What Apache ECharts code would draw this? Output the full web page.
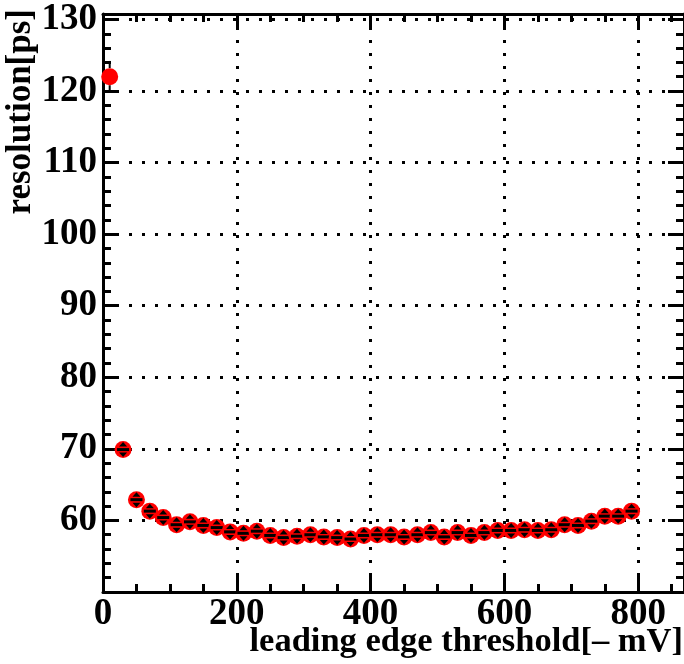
<!DOCTYPE html>
<html>
<head>
<meta charset="utf-8">
<script src="https://cdn.jsdelivr.net/npm/echarts@6/dist/echarts.min.js"></script>
<style>
html,body{margin:0;padding:0;background:#fff;}
#chart{width:684px;height:664px;}
</style>
</head>
<body>
<div id="chart"></div>
<script>
// threshold values [-mV]
var thresholds = [10, 30, 50, 70, 90, 110, 130, 150, 170, 190, 210, 230, 250, 270, 290, 310, 330, 350, 370, 390,
                  410, 430, 450, 470, 490, 510, 530, 550, 570, 590, 610, 630, 650, 670, 690, 710, 730, 750, 770, 790];
// time resolution [ps]
var resolution = [122.0, 69.9, 62.9, 61.3, 60.4, 59.4, 59.8, 59.3, 59.0, 58.4, 58.2, 58.5, 57.9, 57.6, 57.8, 58.0, 57.7, 57.6, 57.4, 57.9,
                  58.0, 58.0, 57.7, 58.0, 58.3, 57.7, 58.3, 57.9, 58.3, 58.6, 58.6, 58.7, 58.6, 58.7, 59.4, 59.3, 59.9, 60.6, 60.6, 61.3];
// resolution errors [ps]
var resolutionErr = [2.2, 0.6, 0.5, 0.5, 0.5, 0.5, 0.5, 0.5, 0.5, 0.5, 0.5, 0.5, 0.5, 0.5, 0.5, 0.5, 0.5, 0.5, 0.5, 0.5,
                     0.5, 0.5, 0.5, 0.5, 0.5, 0.5, 0.5, 0.5, 0.5, 0.5, 0.5, 0.5, 0.5, 0.5, 0.5, 0.5, 0.5, 0.5, 0.5, 0.5];
var xTickValues = [0, 200, 400, 600, 800];
var yTickValues = [60, 70, 80, 90, 100, 110, 120, 130];
var xTitle = 'leading edge threshold[\u2013 mV]';
var yTitle = 'resolution[ps]';

var FONT = 'Liberation Serif';
var data = thresholds.map(function (x, i) { return [x, resolution[i], resolutionErr[i]]; });

function axisCommon(pos, isX, showLabels, showGrid) {
  var o = {
    type: 'value',
    position: pos,
    min: isX ? 0 : 50,
    max: isX ? 868.4 : 130.76,
    interval: isX ? 200 : 10,
    axisLine: { show: true, onZero: false, lineStyle: { color: '#000', width: 3 } },
    axisTick: { show: true, inside: true, length: 16, lineStyle: { color: '#000', width: 3 } },
    minorTick: { show: true, splitNumber: isX ? 4 : 5, length: 8, lineStyle: { color: '#000', width: 3 } },
    splitLine: { show: showGrid, lineStyle: { color: '#000', width: 3, type: [3, 10] } },
    axisLabel: {
      show: showLabels,
      fontFamily: FONT, fontWeight: 'bold', fontSize: 37, color: '#000',
      margin: isX ? 4 : 6,
      showMinLabel: true, showMaxLabel: false,
      formatter: function (v) {
        var list = isX ? xTickValues : yTickValues;
        return list.indexOf(Math.round(v * 1000) / 1000) >= 0 ? String(v) : '';
      }
    }
  };
  return o;
}

var chart = echarts.init(document.getElementById('chart'), null, { renderer: 'canvas' });
chart.setOption({
  animation: false,
  backgroundColor: '#fff',
  grid: { left: 103, top: 14, width: 584, height: 578, containLabel: false },
  xAxis: [axisCommon('bottom', true, true, true), axisCommon('top', true, false, false)],
  yAxis: [axisCommon('left', false, true, true), axisCommon('right', false, false, false)],
  graphic: [
    { type: 'text', right: 1, bottom: 4, z: 10,
      style: { text: xTitle, font: 'bold 34.5px "' + FONT + '"', fill: '#000' } },
    { type: 'text', x: 38, y: 9, rotation: Math.PI / 2, z: 10,
      style: { text: yTitle, font: 'bold 35px "' + FONT + '"', fill: '#000', align: 'right', verticalAlign: 'bottom' } }
  ],
  series: [{
    type: 'custom',
    coordinateSystem: 'cartesian2d',
    xAxisIndex: 0, yAxisIndex: 0,
    z: 5,
    clip: false,
    data: data,
    renderItem: function (params, api) {
      var x = api.value(0), y = api.value(1), e = api.value(2);
      var c = api.coord([x, y]);
      var top = api.coord([x, y + e])[1];
      var bot = api.coord([x, y - e])[1];
      var r = 8.5;
      var children = [];
      var big = (c[1] - top) > r;
      if (big) {
        children.push({ type: 'line', shape: { x1: c[0], y1: top, x2: c[0], y2: c[1] - r },
          style: { stroke: '#000', lineWidth: 2 } });
        children.push({ type: 'line', shape: { x1: c[0], y1: c[1] + r, x2: c[0], y2: bot },
          style: { stroke: '#000', lineWidth: 2 } });
      }
      children.push({ type: 'circle', shape: { cx: c[0], cy: c[1], r: r }, style: { fill: '#ff0000' } });
      if (!big) {
        children.push({ type: 'polygon', shape: { points: [[c[0] - 4, c[1] - 3], [c[0] + 4, c[1] - 3], [c[0], c[1] - 7.5]] }, style: { fill: '#000' } });
        children.push({ type: 'polygon', shape: { points: [[c[0] - 4, c[1] + 3], [c[0] + 4, c[1] + 3], [c[0], c[1] + 7.5]] }, style: { fill: '#000' } });
        children.push({ type: 'rect', shape: { x: c[0] - 6, y: c[1] - 1.5, width: 12, height: 3 }, style: { fill: '#000' } });
      }
      return { type: 'group', children: children };
    }
  }]
});
</script>
</body>
</html>
